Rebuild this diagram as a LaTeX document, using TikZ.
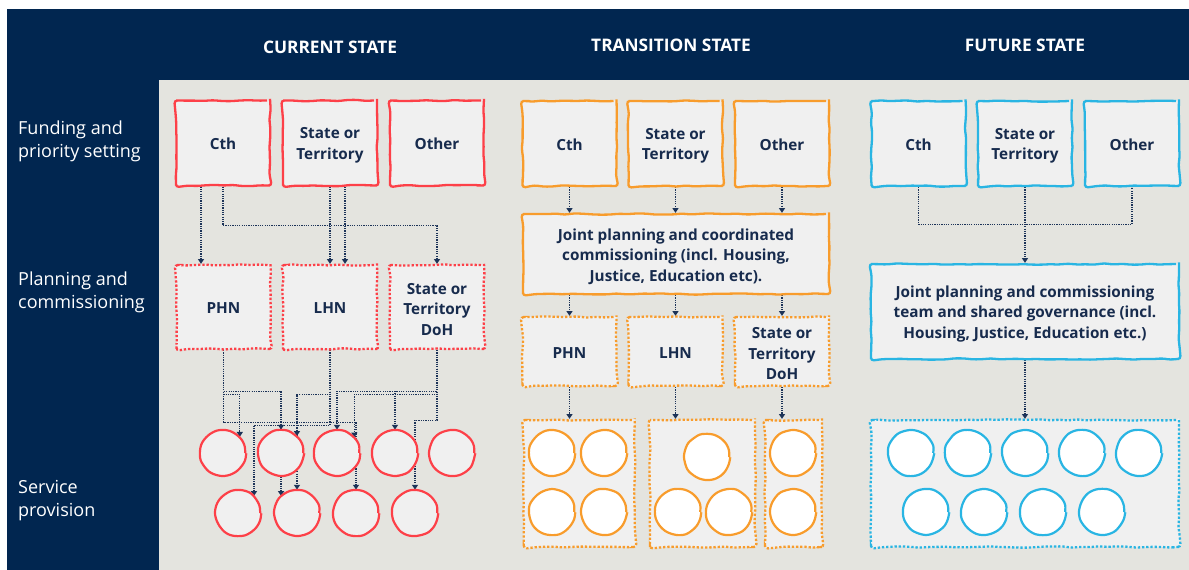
\documentclass[tikz,border=0pt]{standalone}
\usepackage{fontspec}
\setmainfont{Open Sans}
\usetikzlibrary{arrows.meta,decorations.pathmorphing,calc}
\definecolor{navy}{HTML}{012650}
\definecolor{panel}{HTML}{E4E4DF}
\definecolor{boxfill}{HTML}{F0F0F0}
\definecolor{ink}{HTML}{172B4D}
\definecolor{wire}{HTML}{1C3358}
\definecolor{cred}{HTML}{FD4048}
\definecolor{corange}{HTML}{F89C2C}
\definecolor{cblue}{HTML}{29B5E3}
\pgfdeclarelayer{bg}
\pgfdeclarelayer{wires}
\pgfsetlayers{bg,wires,main}
\begin{document}
\begin{tikzpicture}[x=1pt,y=-1pt,
  sk/.style={decorate,decoration={random steps,segment length=9pt,amplitude=0.7pt},rounded corners=3pt},
  skc/.style={decorate,decoration={random steps,segment length=7pt,amplitude=0.5pt},rounded corners=2.5pt},
  txt/.style={text=ink,font=\bfseries\fontsize{15.3}{20.5}\selectfont,align=center,inner sep=0pt},
  lbl/.style={txt,execute at begin node={\rule{0pt}{13.5pt}}},
  multi/.style={label={[txt,yshift=-2.5pt]center:{#1}}},
  solidbox/.style={lbl,sk,draw=#1,line width=2.3pt,fill=boxfill,minimum width=94pt,minimum height=85pt},
  dotbox/.style={lbl,sk,draw=#1,line width=2.3pt,dash pattern=on 2.3pt off 1.9pt,fill=boxfill,minimum width=94pt,minimum height=84pt},
  wide/.style={sk,draw=#1,line width=2.3pt,fill=boxfill,minimum width=306pt},
  holder/.style={sk,draw=#1,line width=2.3pt,dash pattern=on 2.3pt off 1.9pt,fill=boxfill,minimum height=127pt,inner sep=0pt},
  circ/.style={circle,skc,draw=#1,line width=2.2pt,minimum size=44.5pt,inner sep=0pt},
  wirel/.style={draw=wire,line width=1.2pt,dash pattern=on 1.2pt off 1.1pt},
  conn/.style={wirel,-{Triangle[width=6pt,length=4.8pt]}},
  rowlbl/.style={text=white,font=\fontsize{18}{23}\selectfont,align=left,anchor=west,inner sep=0pt},
  head/.style={text=white,font=\bfseries\fontsize{17.3}{20}\selectfont,inner sep=0pt}]
\pgfmathsetseed{7}
\useasboundingbox (0,0) rectangle (1189,570);
\begin{pgfonlayer}{bg}
  \fill[navy] (7,9) rectangle (1189,570);
  \fill[panel] (159,80) rectangle (1189,570);
\end{pgfonlayer}

% column headings and row labels
\node[head] (hcur) at (330,47.5) {CURRENT STATE};
\node[head] (htra) at (671,45.5) {TRANSITION STATE};
\node[head] (hfut) at (1025,45.5) {FUTURE STATE};
\node[rowlbl] (rfund) at (18,141) {Funding and\\priority setting};
\node[rowlbl] (rplan) at (18,292) {Planning and\\commissioning};
\node[rowlbl] (rserv) at (18,501) {Service\\provision};

% ---------------- current state ----------------
\node[solidbox=cred] (c1cth) at (223,143) {Cth};
\node[solidbox=cred,multi={State or\\Territory}] (c1st) at (330,143) {};
\node[solidbox=cred] (c1oth) at (437,143) {Other};
\node[dotbox=cred] (c1phn) at (223.5,307) {PHN};
\node[dotbox=cred] (c1lhn) at (330,307) {LHN};
\node[dotbox=cred,multi={State or\\Territory\\DoH}] (c1doh) at (437,307) {};
\foreach \n/\x in {1/223,2/281,3/337,4/395,5/452}
  \node[circ=cred,fill=boxfill] (a\n) at (\x,453) {};
\foreach \n/\x in {1/238,2/297,3/356,4/415}
  \node[circ=cred,fill=boxfill] (b\n) at (\x,513) {};

\begin{pgfonlayer}{wires}
  \draw[conn] ([xshift=-22pt]c1cth.south) -- ([xshift=-22.5pt]c1phn.north);
  \draw[conn] (c1cth.south) -- ++(0,39) -| (c1doh.north);
  \draw[conn] (c1st.south) -- (c1lhn.north);
  \draw[conn] ([xshift=15pt]c1st.south) -- ([xshift=15pt]c1lhn.north);
  % PHN to services
  \draw[conn] (c1phn.south) -- ++(0,41) -| (a2.north);
  \draw[conn] (c1phn.south) -- ++(0,41) -| (b2.133);
  \draw[conn] (c1phn.south) -- ++(0,44) -| (a1.44);
  \draw[conn] (c1phn.south) -- ++(0,72) -| (b3.north);
  % LHN to services
  \draw[conn] (c1lhn.south) -- ++(0,75) -| (b1.47);
  \draw[conn] (c1lhn.south) -- ++(0,44) -| (a2.47);
  \draw[conn] (c1lhn.south) -- ++(0,44) -| (b2.north);
  % State or Territory DoH to services
  \draw[conn] (c1doh.south) -- ++(0,41) -| (a3.north);
  \draw[conn] (c1doh.south) -- ++(0,41) -| (a4.north);
  \draw[conn] (c1doh.south) -- ++(0,44) -| (a3.42);
  \draw[conn] (c1doh.south) -- ++(0,70) -| (b4.north);
\end{pgfonlayer}

% ---------------- transition state ----------------
\node[solidbox=corange] (t2cth) at (569.5,143.5) {Cth};
\node[solidbox=corange,multi={State or\\Territory}] (t2st) at (675.5,143.5) {};
\node[solidbox=corange] (t2oth) at (782,143.5) {Other};
\node[wide=corange,minimum height=80pt,
  multi={Joint planning and coordinated\\commissioning (incl. Housing,\\Justice, Education etc).}] (t2joint) at (676,254) {};
\node[dotbox=corange,minimum height=69pt] (t2phn) at (569.5,351.5) {PHN};
\node[dotbox=corange,minimum height=69pt] (t2lhn) at (675.5,351.5) {LHN};
\node[dotbox=corange,minimum height=69pt,multi={State or\\Territory\\DoH}] (t2doh) at (782,351.5) {};
\node[holder=corange,minimum width=111pt] (t2cp) at (579.3,483.5) {};
\node[holder=corange,minimum width=105pt] (t2cl) at (702.5,483.5) {};
\node[holder=corange,minimum width=57pt]  (t2cd) at (793.5,483.5) {};
\foreach \n/\x/\y in {1/552/453,2/604/453,3/552/512,4/604/512,5/707/457,6/678/512,7/729/512,8/793/453,9/793/512}
  \node[circ=corange,fill=white] (t\n) at (\x,\y) {};

\begin{pgfonlayer}{wires}
  \draw[conn] (t2cth.south) -- (t2cth.south |- t2joint.north);
  \draw[conn] (t2st.south) -- (t2st.south |- t2joint.north);
  \draw[conn] (t2oth.south) -- (t2oth.south |- t2joint.north);
  \draw[conn] (t2joint.south -| t2phn.north) -- (t2phn.north);
  \draw[conn] (t2joint.south -| t2lhn.north) -- (t2lhn.north);
  \draw[conn] (t2joint.south -| t2doh.north) -- (t2doh.north);
  \draw[conn] (t2phn.south) -- (t2phn.south |- t2cp.north);
  \draw[conn] (t2lhn.south) -- (t2lhn.south |- t2cl.north);
  \draw[conn] (t2doh.south) -- (t2doh.south |- t2cd.north);
\end{pgfonlayer}

% ---------------- future state ----------------
\node[solidbox=cblue] (f3cth) at (918.5,143.5) {Cth};
\node[solidbox=cblue,multi={State or\\Territory}] (f3st) at (1025,143.5) {};
\node[solidbox=cblue] (f3oth) at (1132,143.5) {Other};
\node[wide=cblue,minimum width=308pt,minimum height=95pt,
  multi={Joint planning and commissioning\\team and shared governance (incl.\\Housing, Justice, Education etc.)}] (f3joint) at (1025,311.5) {};
\node[holder=cblue,minimum width=308pt] (f3cont) at (1025,483.5) {};
\foreach \n/\x in {1/911,2/968,3/1025,4/1082,5/1139}
  \node[circ=cblue,fill=white] (u\n) at (\x,453) {};
\foreach \n/\x in {1/926,2/984,3/1043,4/1102}
  \node[circ=cblue,fill=white] (v\n) at (\x,512) {};

\begin{pgfonlayer}{wires}
  \draw[wirel] (f3cth.south) -- ++(0,37) -| (f3oth.south);
  \draw[conn] (f3st.south) -- (f3joint.north);
  \draw[conn] (f3joint.south) -- (f3cont.north);
\end{pgfonlayer}
\end{tikzpicture}
\end{document}
